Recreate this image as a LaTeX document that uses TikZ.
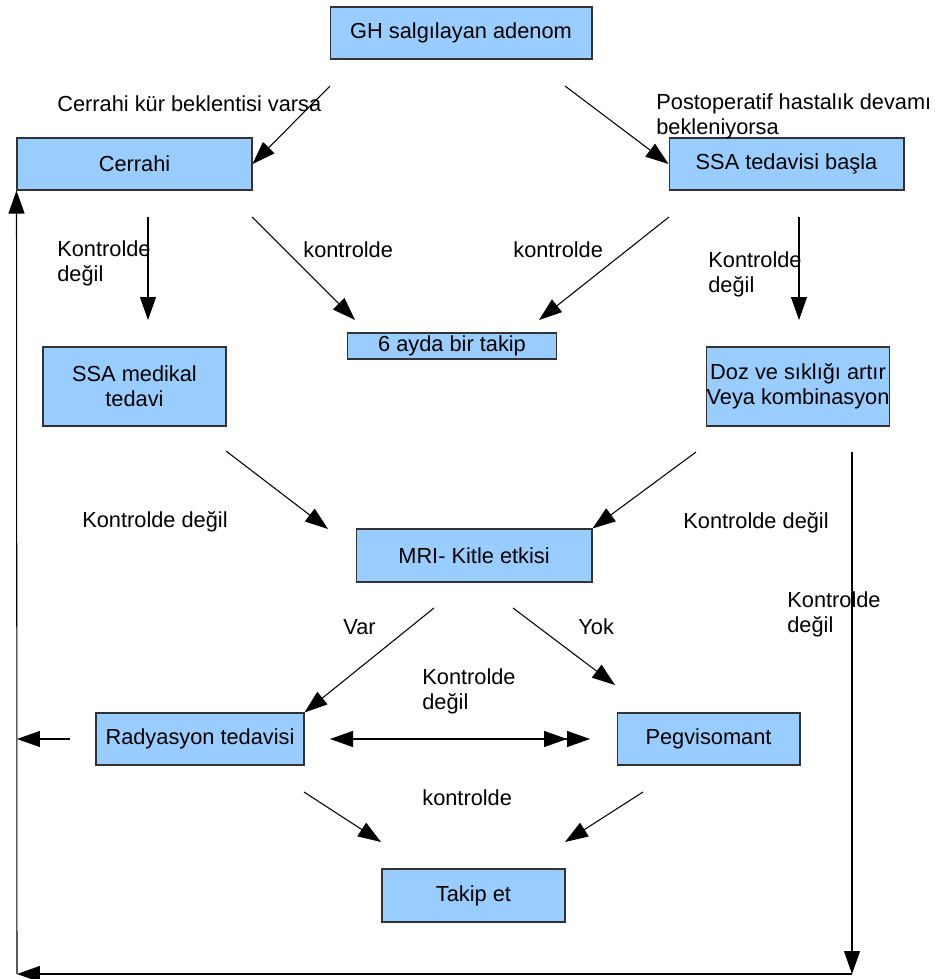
\documentclass[tikz,border=0pt]{standalone}
\usepackage{fontspec}
\setmainfont{Liberation Sans}
\usepackage{tikz}
\usetikzlibrary{arrows.meta}
\definecolor{kutumavi}{HTML}{99CCFF}
\newcommand{\yazi}{\fontsize{12.4}{14.2}\selectfont}

\begin{document}
\begin{tikzpicture}[x=0.02cm,y=-0.02cm,>={Triangle[length=0.46cm,width=0.32cm]},
  kutu/.style={draw=black!80,fill=kutumavi,line width=0.6pt,inner sep=0pt,align=center,font=\yazi},
  ok/.style={->,line width=0.6pt},
  etiket/.style={anchor=west,inner sep=0pt,align=left,font=\yazi}]
\useasboundingbox (0,0) rectangle (935,979);

% kutular
\node[kutu,minimum width=5.24cm,minimum height=1.04cm] (gh) at (461,33) {GH salgılayan adenom};
\node[kutu,minimum width=4.7cm,minimum height=1.04cm] (cerrahi) at (134.5,164) {Cerrahi};
\node[kutu,minimum width=4.7cm,minimum height=1.04cm] (ssabasla) at (786.5,164) {SSA tedavisi başla};
\node[kutu,minimum width=4.18cm,minimum height=0.52cm] (takip6) at (452,346) {6 ayda bir takip};
\node[kutu,minimum width=3.66cm,minimum height=1.58cm] (ssamed) at (134.5,386.5) {SSA medikal\\tedavi};
\node[kutu,minimum width=3.66cm,minimum height=1.58cm] (doz) at (798,386.5) {\makebox[3.4cm]{Doz ve sıklığı artır}\\\makebox[3.4cm]{Veya kombinasyon}};
\node[kutu,minimum width=4.72cm,minimum height=1.06cm] (mri) at (474,555.5) {MRI- Kitle etkisi};
\node[kutu,minimum width=4.16cm,minimum height=1.04cm] (radyasyon) at (200,739) {Radyasyon tedavisi};
\node[kutu,minimum width=3.66cm,minimum height=1.04cm] (pegviso) at (708.5,739) {Pegvisomant};
\node[kutu,minimum width=3.66cm,minimum height=1.06cm] (takipet) at (473.5,895.5) {Takip et};

% ok uclari
\coordinate (a1) at (330,86); \coordinate (a2) at (565,86);
\coordinate (b1) at (148,217); \coordinate (b2) at (148,320);
\coordinate (b3) at (252,217); \coordinate (b4) at (355,320);
\coordinate (b5) at (669,217); \coordinate (b6) at (539,320);
\coordinate (b7) at (799,217); \coordinate (b8) at (799,320);
\coordinate (c1) at (226,451); \coordinate (c2) at (328,529);
\coordinate (c3) at (696,452);
\coordinate (c4) at (852,452); \coordinate (c5) at (852,974); \coordinate (c6) at (17,974);
\coordinate (d1) at (434,608); \coordinate (d2) at (513,608); \coordinate (d3) at (615,685);
\coordinate (d4) at (70,739); \coordinate (d5) at (17,739);
\coordinate (d6) at (330,739); \coordinate (d7) at (590,739);
\coordinate (e1) at (304,792); \coordinate (e2) at (381,842);
\coordinate (e3) at (643,792); \coordinate (e4) at (565,842);

% oklar
\draw[ok] (a1) -- (cerrahi.east); \draw[ok] (a2) -- (ssabasla.west);
\draw[ok] (b1) -- (b2); \draw[ok] (b3) -- (b4);
\draw[ok] (b5) -- (b6); \draw[ok] (b7) -- (b8);
\draw[ok] (c1) -- (c2); \draw[ok] (c3) -- (mri.north east);
\draw[ok] (c4) -- (c5); \draw[ok] (c5) -- (c6); \draw[ok] (c6) -- (cerrahi.south west);
\draw[ok] (d1) -- (radyasyon.north east); \draw[ok] (d2) -- (d3);
\draw[ok] (d4) -- (d5);
\draw[<->>,line width=0.6pt] (d6) -- (d7);
\draw[ok] (e1) -- (e2); \draw[ok] (e3) -- (e4);

% etiketler
\node[etiket] (l1) at (57,104) {Cerrahi kür beklentisi varsa};
\node[etiket] (l2) at (656,116) {Postoperatif hastalık devamı\\bekleniyorsa};
\node[etiket] (l3) at (57,263) {Kontrolde\\değil};
\node[etiket] (l4) at (303,250) {kontrolde};
\node[etiket] (l5) at (513,250) {kontrolde};
\node[etiket] (l6) at (708,274) {Kontrolde\\değil};
\node[etiket] (l7) at (82,522) {Kontrolde değil};
\node[etiket] (l8) at (683,523) {Kontrolde değil};
\node[etiket] (l9) at (787,614) {Kontrolde\\değil};
\node[etiket] (l10) at (343,627) {Var};
\node[etiket] (l11) at (578,627) {Yok};
\node[etiket] (l12) at (422,691) {Kontrolde\\değil};
\node[etiket] (l13) at (422,798) {kontrolde};

\end{tikzpicture}
\end{document}
